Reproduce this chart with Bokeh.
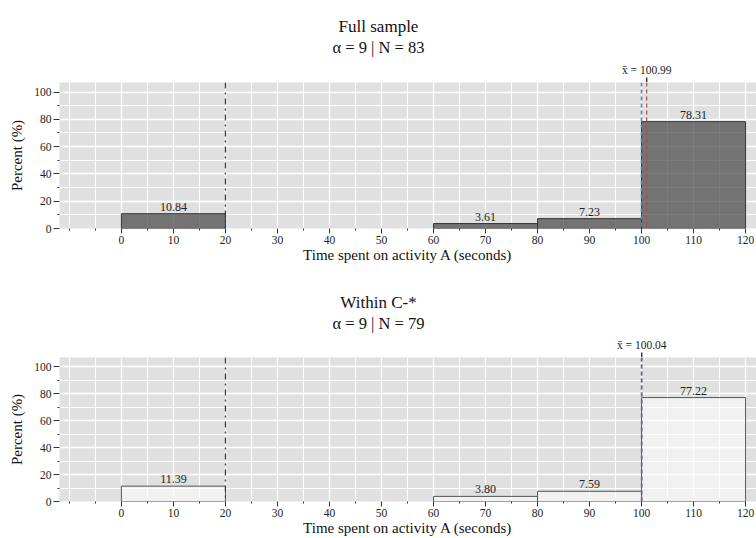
from bokeh.plotting import figure
from bokeh.layouts import column
from bokeh.models import ColumnDataSource, FixedTicker, Label, Span
from bokeh.core.properties import value
from bokeh.embed import file_html
from bokeh.resources import INLINE

# Histogram bins (seconds) and percentages per panel
bin_left = [0, 20, 40, 60, 80, 100]
bin_right = [20, 40, 60, 80, 100, 120]
pct_full = [10.84, 0.00, 0.00, 3.61, 7.23, 78.31]
pct_within = [11.39, 0.00, 0.00, 3.80, 7.59, 77.22]

# Panel texts
titles = ["Full sample", "Within C-*"]
subtitles = ["\u03b1 = 9 | N = 83", "\u03b1 = 9 | N = 79"]
means = [100.99, 100.04]

# Reference cut-offs
cut_low = 20
cut_high = 100

x_ticks = list(range(0, 121, 10))
x_minor = [-10, -5] + list(range(5, 120, 10))
y_ticks = list(range(0, 101, 20))
y_minor = list(range(10, 101, 20))

X_LO, X_HI = -11.9, 122.1
Y_TOP = 107

FONT = "Liberation Serif"
W = 756
LEFT = 59


def header(title, subtitle, mean, h, x_range, title_base, sub_base):
    """Strip above a panel: titles plus the marker and label of the mean."""
    p = figure(width=W, height=h, x_range=x_range, y_range=(0, h),
               output_backend="svg", toolbar_location=None,
               x_axis_type=None, y_axis_type=None,
               min_border_left=LEFT, min_border_right=0,
               min_border_top=0, min_border_bottom=0)
    p.grid.visible = False
    p.outline_line_color = None
    p.background_fill_color = "white"
    p.border_fill_color = "white"

    # y here is in pixels above the panel's top edge
    p.segment(x0=mean, y0=0, x1=mean, y1=5, line_color="#333333", line_width=1.4)
    p.text(x=[mean], y=[13], text=["x\u0304 = %.2f" % mean], text_align="center",
           text_baseline="alphabetic", text_font=value(FONT),
           text_font_size="11.5px", text_color="#222222")

    cx = W / 2 - LEFT
    p.add_layout(Label(x=cx, y=h - title_base, x_units="screen", y_units="screen",
                       text=title, text_align="center", text_baseline="alphabetic",
                       text_font=FONT, text_font_size="17px", text_color="#111111"))
    p.add_layout(Label(x=cx, y=h - sub_base, x_units="screen", y_units="screen",
                       text=subtitle, text_align="center", text_baseline="alphabetic",
                       text_font=FONT, text_font_size="16.5px", text_color="#111111"))
    return p


def panel(pct, mean, h, bottom_border, x_range, fill, fill_alpha, outline):
    p = figure(width=W, height=h, x_range=x_range, y_range=(0, Y_TOP),
               output_backend="svg", toolbar_location=None,
               min_border_left=LEFT, min_border_right=0,
               min_border_top=0, min_border_bottom=bottom_border)
    p.background_fill_color = "#e0e0e0"
    p.border_fill_color = "white"
    p.outline_line_color = None

    # axes
    p.xaxis.ticker = FixedTicker(ticks=x_ticks, minor_ticks=x_minor)
    p.yaxis.ticker = FixedTicker(ticks=y_ticks, minor_ticks=y_minor)
    for ax in (p.xaxis[0], p.yaxis[0]):
        ax.axis_line_color = None
        ax.major_tick_line_color = "#333333"
        ax.minor_tick_line_color = "#333333"
        ax.major_tick_in = 0
        ax.minor_tick_in = 0
        ax.major_label_text_font = FONT
        ax.major_label_text_font_size = "11.5px"
        ax.major_label_text_color = "#222222"
        ax.axis_label_text_font = FONT
        ax.axis_label_text_font_size = "15px"
        ax.axis_label_text_font_style = "normal"
        ax.axis_label_text_color = "#111111"
    p.xaxis.major_tick_out = 5
    p.xaxis.minor_tick_out = 2
    p.yaxis.major_tick_out = 6
    p.yaxis.minor_tick_out = 2
    p.xaxis.major_label_standoff = 2
    p.xaxis.axis_label_standoff = 0
    p.yaxis.major_label_standoff = 2
    p.yaxis.axis_label_standoff = 6
    p.xaxis.axis_label = "Time spent on activity A (seconds)"
    p.yaxis.axis_label = "Percent (%)"

    # white grid, major and minor
    for g in (p.xgrid[0], p.ygrid[0]):
        g.grid_line_color = "white"
        g.grid_line_width = 1.3
        g.minor_grid_line_color = "white"
        g.minor_grid_line_width = 1.0

    # bars (zero-height bins are not drawn)
    keep = [i for i, v in enumerate(pct) if v > 0]
    src = ColumnDataSource(dict(
        left=[bin_left[i] for i in keep],
        right=[bin_right[i] for i in keep],
        top=[pct[i] for i in keep],
        mid=[(bin_left[i] + bin_right[i]) / 2 for i in keep],
        lab=["%.2f" % pct[i] for i in keep],
    ))
    p.quad(left="left", right="right", bottom=0, top="top", source=src,
           fill_color=fill, fill_alpha=fill_alpha,
           line_color=outline, line_width=1)
    p.text(x="mid", y="top", text="lab", source=src, text_align="center",
           text_baseline="alphabetic", y_offset=-7,
           text_font=value(FONT), text_font_size="12px", text_color="#222222")

    # reference lines
    p.add_layout(Span(location=cut_low, dimension="height", line_color="#1d3a64",
                      line_width=1.2, line_dash="dashdot"))
    p.add_layout(Span(location=cut_high, dimension="height", line_color="#5a7ea8",
                      line_width=1.6, line_dash="4 3"))
    p.add_layout(Span(location=mean, dimension="height", line_color="#b04555",
                      line_width=1.2, line_dash="4 3"))
    return p


h1 = header(titles[0], subtitles[0], means[0], 82, (X_LO, X_HI), 26, 47)
p1 = panel(pct_full, means[0], 187, 41, h1.x_range, "#444444", 0.7, "#333333")
h2 = header(titles[1], subtitles[1], means[1], 88, (X_LO, X_HI), 33, 54)
p2 = panel(pct_within, means[1], 181, 36, h2.x_range, "white", 0.55, "#555555")

layout = column(h1, p1, h2, p2, spacing=0)
open("out.html", "w").write(file_html(layout, INLINE))
